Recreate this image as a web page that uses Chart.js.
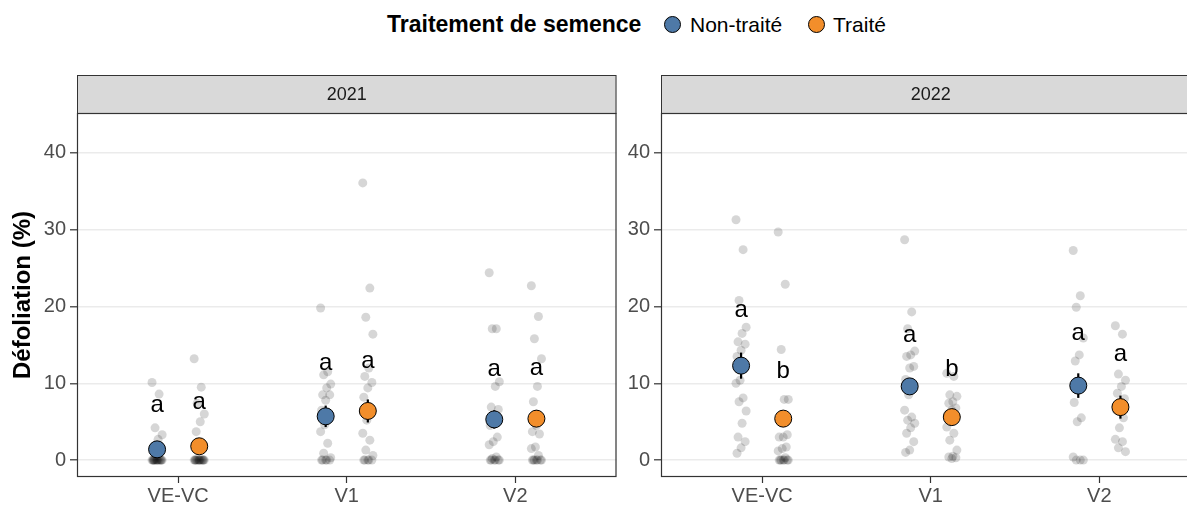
<!DOCTYPE html>
<html>
<head>
<meta charset="utf-8">
<script src="https://cdn.jsdelivr.net/npm/chart.js@4/dist/chart.umd.min.js"></script>
<style>
  body { margin: 0; width: 1187px; height: 505px; overflow: hidden; background: #fff;
         font-family: "Liberation Sans", Arial, sans-serif; position: relative; }
  #legend span { position: absolute; white-space: nowrap; line-height: 1; }
  #legend .title { font-weight: bold; font-size: 23px; color: #000; left: 387px; top: 13px; }
  #legend .dot { width: 15px; height: 15px; border-radius: 50%; border: 1px solid #000; top: 16px; }
  #legend .lab { font-size: 21px; color: #000; top: 14px; }
  .panel { position: absolute; top: 0; height: 505px; }
</style>
</head>
<body>
<div id="legend">
  <span class="title">Traitement de semence</span>
  <span class="dot" style="background:#4E79A7;left:664px"></span><span class="lab" style="left:690px">Non-traité</span>
  <span class="dot" style="background:#F28E2B;left:808px"></span><span class="lab" style="left:833px">Traité</span>
</div>
<div class="panel" style="left:620px;width:590px"><canvas id="c2022" width="590" height="505"></canvas></div>
<div class="panel" style="left:0;width:626px"><canvas id="c2021" width="626" height="505"></canvas></div>

<script>
const stades = ['VE-VC', 'V1', 'V2'];
const yTicks = [0, 10, 20, 30, 40];

// moyennes et erreurs-types par stade
const moy2021NT = [1.4, 5.7, 5.3];
const moy2021T = [1.8, 6.4, 5.4];
const moy2022NT = [12.3, 9.6, 9.7];
const moy2022T = [5.4, 5.6, 6.9];
const se2021NT = [0.7, 1.4, 1.2];
const se2021T = [0.9, 1.5, 1.1];
const se2022NT = [1.7, 1.0, 1.6];
const se2022T = [1.0, 0.8, 1.5];

// lettres de groupement et hauteur où elles sont écrites
const lettres2021NT = ['a', 'a', 'a'];
const lettres2021T = ['a', 'a', 'a'];
const lettres2022NT = ['a', 'a', 'a'];
const lettres2022T = ['b', 'b', 'a'];
const hautLettre2021NT = [7.1, 12.6, 11.8];
const hautLettre2021T = [7.5, 12.9, 11.9];
const hautLettre2022NT = [19.5, 16.2, 16.5];
const hautLettre2022T = [11.8, 12.1, 13.8];

// observations individuelles
const brut2021NT = [
  [10.1, 8.6, 4.2, 3.3, 2.7, 0, 0, 0, 0, 0, 0, 0, 0, 0, 0, 0, 0, 0, 0, 0],
  [19.8, 11.5, 11.1, 9.9, 9.4, 8.5, 8.5, 7.8, 6.5, 5.5, 4.6, 3.7, 2.2, 0.9, 0.3, 0, 0, 0, 0, 0],
  [24.4, 17.1, 17.1, 10.2, 9.6, 6.9, 6.6, 5.5, 4.5, 3.0, 2.4, 2.0, 0.4, 0.2, 0, 0, 0, 0, 0, 0]
];
const brut2021T = [
  [13.2, 9.5, 7.4, 6.0, 5.0, 3.7, 0, 0, 0, 0, 0, 0, 0, 0, 0, 0, 0, 0, 0, 0],
  [36.1, 22.4, 18.6, 16.4, 12.0, 10.9, 10.1, 9.4, 8.2, 6.0, 5.2, 3.5, 2.6, 1.3, 0.6, 0, 0, 0, 0, 0],
  [22.7, 18.7, 15.8, 13.2, 9.6, 7.6, 5.5, 4.5, 3.7, 3.4, 1.7, 1.5, 0.6, 0, 0, 0, 0, 0, 0, 0]
];
const brut2022NT = [
  [31.3, 27.4, 20.8, 17.3, 16.5, 15.4, 15.1, 14.3, 13.5, 12.0, 10.4, 10.0, 8.1, 7.6, 6.4, 4.8, 3.0, 2.4, 1.6, 0.9],
  [28.7, 19.3, 17.1, 14.2, 13.7, 13.5, 12.2, 12.0, 10.5, 9.5, 8.5, 6.5, 5.6, 5.2, 4.8, 4.2, 3.5, 2.4, 1.3, 1.0],
  [27.3, 21.4, 19.9, 15.9, 13.7, 12.9, 10.0, 9.5, 7.5, 5.5, 5.0, 0.4, 0, 0, 0]
];
const brut2022T = [
  [29.7, 22.9, 14.4, 7.9, 7.9, 5.5, 3.3, 3.0, 3.0, 1.7, 1.5, 1.2, 0.3, 0, 0, 0, 0, 0, 0, 0],
  [11.3, 10.9, 8.5, 8.3, 7.6, 7.4, 6.8, 6.5, 6.0, 5.5, 5.0, 4.3, 3.5, 2.6, 1.3, 0.5, 0.4, 0.3, 0.2],
  [17.5, 16.4, 11.2, 10.4, 9.6, 8.7, 8.0, 7.0, 6.5, 5.5, 4.2, 2.7, 2.4, 1.6, 1.1]
];

const BLUE = '#4E79A7', ORANGE = '#F28E2B';
const DODGE = 0.125;
Chart.defaults.font.family = '"Liberation Sans", Arial, sans-serif';

// petit décalage horizontal fixe, comme un jitter
const jitter = i => ((i * 7) % 11 / 10 - 0.5) * 0.06;

const rawPoints = (groups, dx) =>
  groups.flatMap((vals, s) => vals.map((v, i) => ({ x: s + 1 + dx + jitter(i), y: v })));
const meanPoints = (moy, dx) => moy.map((m, s) => ({ x: s + 1 + dx, y: m }));

function makeChart(id, annee, groupes, opts) {
  const errBars = {
    id: 'errBars',
    beforeDatasetDraw(chart, args) {
      const g = groupes[args.index];
      if (!g || !g.isMean) return;
      const { ctx, scales: { x, y } } = chart;
      ctx.save();
      ctx.strokeStyle = '#000';
      ctx.lineWidth = 2.2;
      g.moy.forEach((m, s) => {
        const px = x.getPixelForValue(s + 1 + g.dx);
        ctx.beginPath();
        ctx.moveTo(px, y.getPixelForValue(m - g.se[s]));
        ctx.lineTo(px, y.getPixelForValue(m + g.se[s]));
        ctx.stroke();
      });
      ctx.restore();
    }
  };
  const letters = {
    id: 'letters',
    afterDatasetsDraw(chart) {
      const { ctx, scales: { x, y } } = chart;
      ctx.save();
      ctx.fillStyle = '#000';
      ctx.font = '24px "Liberation Sans", Arial, sans-serif';
      ctx.textAlign = 'center';
      ctx.textBaseline = 'alphabetic';
      groupes.filter(g => g.isMean).forEach(g => {
        g.lettres.forEach((l, s) => {
          const m = ctx.measureText(l);
          const cy = y.getPixelForValue(g.haut[s]);
          const base = cy + (m.actualBoundingBoxAscent - m.actualBoundingBoxDescent) / 2;
          ctx.fillText(l, x.getPixelForValue(s + 1 + g.dx), base);
        });
      });
      ctx.restore();
    }
  };
  const strip = {
    id: 'strip',
    beforeDraw(chart) {
      const { ctx, chartArea: a } = chart;
      ctx.save();
      ctx.fillStyle = '#D9D9D9';
      ctx.fillRect(a.left, 75, a.right - a.left, a.top - 75);
      ctx.strokeStyle = '#333';
      ctx.lineWidth = 1;
      ctx.strokeRect(a.left + 0.5, 75.5, a.right - a.left - 1, a.top - 75);
      ctx.fillStyle = '#1A1A1A';
      ctx.font = '18px "Liberation Sans", Arial, sans-serif';
      ctx.textAlign = 'center';
      ctx.textBaseline = 'middle';
      ctx.fillText(annee, (a.left + a.right) / 2, (75 + a.top) / 2 + 1);
      ctx.restore();
    },
    afterDraw(chart) {
      const { ctx, chartArea: a } = chart;
      ctx.save();
      ctx.strokeStyle = '#333';
      ctx.lineWidth = 1.2;
      ctx.strokeRect(a.left + 0.5, a.top + 0.5, a.right - a.left - 1, a.bottom - a.top - 1);
      ctx.restore();
    }
  };

  const datasets = groupes.map(g => g.isMean ? {
    data: meanPoints(g.moy, g.dx),
    pointRadius: 8.5,
    pointBackgroundColor: g.color,
    pointBorderColor: '#000',
    pointBorderWidth: 1,
    order: 0
  } : {
    data: rawPoints(g.brut, g.dx),
    pointRadius: 4.5,
    pointBackgroundColor: 'rgba(0,0,0,0.16)',
    pointBorderWidth: 0,
    order: 2
  });

  return new Chart(document.getElementById(id), {
    type: 'scatter',
    data: { datasets },
    plugins: [errBars, letters, strip],
    options: {
      responsive: false,
      animation: false,
      devicePixelRatio: 1,
      events: [],
      layout: { padding: { top: 113, right: opts.padRight, bottom: 0, left: 0 } },
      plugins: { legend: { display: false }, tooltip: { enabled: false } },
      scales: {
        x: {
          type: 'linear', min: 0.4, max: 3.6,
          afterBuildTicks: sc => { sc.ticks = stades.map((_, i) => ({ value: i + 1 })); },
          afterFit: sc => { sc.height = 28; },
          ticks: { callback: v => stades[v - 1], color: '#4D4D4D', font: { size: 20 }, padding: 1, maxRotation: 0 },
          grid: { drawOnChartArea: false, drawTicks: true, tickLength: 6, tickColor: '#333', tickWidth: 1.2 },
          border: { display: false }
        },
        y: {
          min: -2.2, max: 45.2,
          afterBuildTicks: sc => { sc.ticks = yTicks.map(v => ({ value: v })); },
          afterFit: sc => { sc.width = opts.yWidth; },
          ticks: { color: '#4D4D4D', font: { size: 20 }, padding: 4 },
          grid: { color: '#EBEBEB', lineWidth: 1.6, tickLength: 7, tickColor: '#333', tickWidth: 1.2 },
          border: { display: false },
          title: { display: opts.yTitle, text: 'Défoliation (%)', color: '#000',
                   font: { size: 24, weight: 'bold' }, padding: { top: 9, bottom: 0 } }
        }
      }
    }
  });
}

makeChart('c2021', '2021', [
  { isMean: true, moy: moy2021NT, se: se2021NT, lettres: lettres2021NT, haut: hautLettre2021NT, dx: -DODGE, color: BLUE },
  { isMean: true, moy: moy2021T, se: se2021T, lettres: lettres2021T, haut: hautLettre2021T, dx: DODGE, color: ORANGE },
  { isMean: false, brut: brut2021NT, dx: -DODGE },
  { isMean: false, brut: brut2021T, dx: DODGE }
], { yWidth: 77, padRight: 0, yTitle: true });

makeChart('c2022', '2022', [
  { isMean: true, moy: moy2022NT, se: se2022NT, lettres: lettres2022NT, haut: hautLettre2022NT, dx: -DODGE, color: BLUE },
  { isMean: true, moy: moy2022T, se: se2022T, lettres: lettres2022T, haut: hautLettre2022T, dx: DODGE, color: ORANGE },
  { isMean: false, brut: brut2022NT, dx: -DODGE },
  { isMean: false, brut: brut2022T, dx: DODGE }
], { yWidth: 41, padRight: 6, yTitle: false });
</script>
</body>
</html>
